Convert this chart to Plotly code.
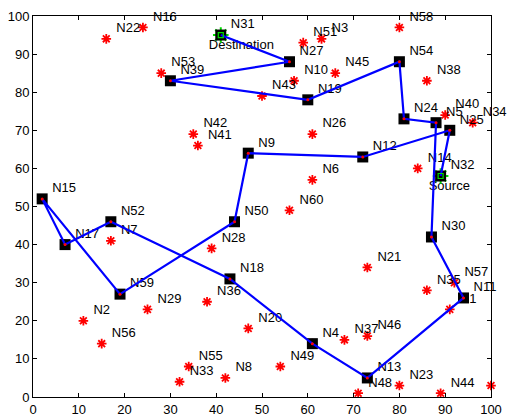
import plotly.graph_objects as go

# Sensor nodes: name, x, y
node_names = [f"N{i}" for i in range(1, 61)]
node_x = [91, 11, 63, 61, 88, 61, 17, 42, 47, 57,
          94, 72, 73, 84, 2, 24, 7, 43, 60, 47,
          73, 16, 80, 81, 91, 61, 56, 39, 25, 87,
          41, 89, 32, 96, 86, 38, 68, 86, 30, 90,
          36, 35, 50, 89, 66, 73, 100, 71, 54, 44,
          59, 17, 28, 80, 34, 15, 92, 80, 19, 56]
node_y = [23, 20, 94, 14, 72, 57, 41, 5, 64, 83,
          26, 63, 5, 60, 52, 97, 40, 31, 78, 18,
          34, 94, 3, 73, 70, 69, 88, 39, 23, 42,
          95, 58, 4, 72, 28, 25, 15, 83, 83, 74,
          66, 69, 79, 1, 85, 16, 3, 1, 8, 46,
          93, 46, 85, 88, 8, 14, 30, 97, 27, 49]

# Route from source to destination
route = ["N32", "N25", "N12", "N9", "N50", "N59", "N15", "N17", "N52", "N18",
         "N4", "N13", "N11", "N30", "N5", "N24", "N54", "N19", "N39", "N27", "N31"]
source_name = "N32"
dest_name = "N31"

pos = {n: (x, y) for n, x, y in zip(node_names, node_x, node_y)}
route_x = [pos[n][0] for n in route]
route_y = [pos[n][1] for n in route]

FONT = "Liberation Sans, Arial, sans-serif"
label_dx, label_dy = 2.2, 2.6

fig = go.Figure()

# all nodes as red asterisks
fig.add_trace(go.Scatter(
    x=node_x, y=node_y, mode="markers", cliponaxis=False,
    marker=dict(symbol="asterisk-open", size=8, color="red",
                line=dict(color="red", width=1.8)),
    hoverinfo="skip"))

# node labels
fig.add_trace(go.Scatter(
    x=[x + label_dx for x in node_x], y=[y + label_dy for y in node_y],
    mode="text", text=node_names, textposition="middle right",
    textfont=dict(family=FONT, size=13, color="black"), cliponaxis=False,
    hoverinfo="skip"))

# source / destination captions
sx, sy = pos[source_name]
dx_, dy_ = pos[dest_name]
fig.add_trace(go.Scatter(
    x=[sx - 2.6, dx_ - 2.6], y=[sy - 2.7, dy_ - 2.7],
    mode="text", text=["Source", "Destination"], textposition="middle right",
    textfont=dict(family=FONT, size=13, color="black"), cliponaxis=False,
    hoverinfo="skip"))

# green markers at the end points
fig.add_trace(go.Scatter(
    x=[sx, dx_], y=[sy, dy_], mode="markers", cliponaxis=False,
    marker=dict(symbol="asterisk-open", size=13, color="#00dd00",
                line=dict(color="#00dd00", width=2)),
    hoverinfo="skip"))

# route nodes as black squares
fig.add_trace(go.Scatter(
    x=route_x, y=route_y, mode="markers", cliponaxis=False,
    marker=dict(symbol="square", size=11, color="black",
                line=dict(color="black", width=0)),
    hoverinfo="skip"))

# route line
fig.add_trace(go.Scatter(
    x=route_x, y=route_y, mode="lines",
    line=dict(color="#0000ff", width=2.2), hoverinfo="skip"))

# centre dots
fig.add_trace(go.Scatter(
    x=route_x[1:-1], y=route_y[1:-1], mode="markers", cliponaxis=False,
    marker=dict(symbol="circle", size=3, color="red"), hoverinfo="skip"))
fig.add_trace(go.Scatter(
    x=[sx, dx_], y=[sy, dy_], mode="markers", cliponaxis=False,
    marker=dict(symbol="square-open", size=5, color="#00dd00",
                line=dict(color="#00dd00", width=1.2)),
    hoverinfo="skip"))

axis_common = dict(
    range=[0, 100], tick0=0, dtick=10, ticks="inside", ticklen=4,
    tickcolor="black", showline=True, linecolor="black", linewidth=1,
    mirror="ticks", showgrid=False, zeroline=False, automargin=False,
    tickfont=dict(family=FONT, size=13, color="black"))

fig.update_layout(
    width=521, height=418,
    margin=dict(l=33, r=30, t=16, b=21),
    paper_bgcolor="white", plot_bgcolor="white",
    showlegend=False,
    xaxis=axis_common, yaxis=axis_common)

fig.write_html("out.html")
